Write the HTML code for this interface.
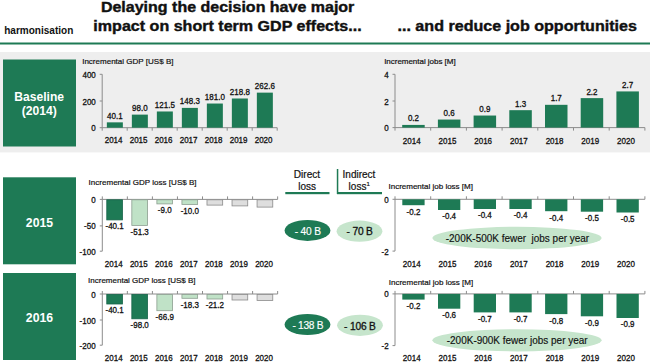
<!DOCTYPE html>
<html><head><meta charset="utf-8"><style>
html,body{margin:0;padding:0;background:#fff;width:650px;height:362px;overflow:hidden}
svg{display:block;font-family:"Liberation Sans", sans-serif}
</style></head><body>
<svg width="650" height="362" viewBox="0 0 650 362">
<rect x="0.00" y="52.00" width="650.00" height="100.40" fill="#eeeeee"/>
<rect x="0.00" y="42.50" width="650.00" height="2.00" fill="#1e7a55"/>
<text x="4.20" y="33.70" font-size="10" font-weight="bold" fill="#111" textLength="69.12" lengthAdjust="spacingAndGlyphs" >harmonisation</text>
<text x="100.93" y="12.00" font-size="14.8" font-weight="bold" fill="#111" textLength="253.41" lengthAdjust="spacingAndGlyphs" stroke="#111" stroke-width="0.4">Delaying the decision have major</text>
<text x="93.38" y="31.10" font-size="14.8" font-weight="bold" fill="#111" textLength="268.32" lengthAdjust="spacingAndGlyphs" stroke="#111" stroke-width="0.4">impact on short term GDP effects...</text>
<text x="397.51" y="31.00" font-size="14.8" font-weight="bold" fill="#111" textLength="239.45" lengthAdjust="spacingAndGlyphs" stroke="#111" stroke-width="0.4">... and reduce job opportunities</text>
<rect x="3.00" y="59.50" width="73.00" height="87.00" fill="#1e7a55"/>
<text x="14.29" y="101.00" font-size="12" font-weight="bold" fill="#fff" textLength="49.72" lengthAdjust="spacingAndGlyphs" >Baseline</text>
<text x="21.70" y="115.00" font-size="12" font-weight="bold" fill="#fff" textLength="35.11" lengthAdjust="spacingAndGlyphs" >(2014)</text>
<rect x="3.00" y="177.30" width="73.00" height="87.00" fill="#1e7a55"/>
<text x="25.88" y="226.70" font-size="12" font-weight="bold" fill="#fff" textLength="27.16" lengthAdjust="spacingAndGlyphs" >2015</text>
<rect x="3.00" y="273.00" width="73.00" height="87.00" fill="#1e7a55"/>
<text x="25.88" y="321.70" font-size="12" font-weight="bold" fill="#fff" textLength="27.27" lengthAdjust="spacingAndGlyphs" >2016</text>
<text x="82.16" y="63.50" font-size="8.0" font-weight="normal" fill="#111" textLength="91.31" lengthAdjust="spacing" stroke="#111" stroke-width="0.2">Incremental GDP [US$ B]</text>
<line x1="102.20" y1="74.30" x2="102.20" y2="130.70" stroke="#8c8c8c" stroke-width="1"/>
<line x1="99.70" y1="74.30" x2="102.20" y2="74.30" stroke="#8c8c8c" stroke-width="1"/>
<text transform="translate(95.80,77.80) scale(0.9302,1)" font-size="8.6" text-anchor="end" fill="#111" stroke="#111" stroke-width="0.3">400</text>
<line x1="99.70" y1="101.00" x2="102.20" y2="101.00" stroke="#8c8c8c" stroke-width="1"/>
<text transform="translate(95.80,104.50) scale(0.9302,1)" font-size="8.6" text-anchor="end" fill="#111" stroke="#111" stroke-width="0.3">200</text>
<line x1="99.70" y1="127.70" x2="102.20" y2="127.70" stroke="#8c8c8c" stroke-width="1"/>
<text transform="translate(95.80,131.20) scale(0.9302,1)" font-size="8.6" text-anchor="end" fill="#111" stroke="#111" stroke-width="0.3">0</text>
<line x1="102.20" y1="127.70" x2="277.20" y2="127.70" stroke="#8c8c8c" stroke-width="1"/>
<line x1="127.20" y1="127.70" x2="127.20" y2="130.70" stroke="#8c8c8c" stroke-width="1"/>
<line x1="152.20" y1="127.70" x2="152.20" y2="130.70" stroke="#8c8c8c" stroke-width="1"/>
<line x1="177.20" y1="127.70" x2="177.20" y2="130.70" stroke="#8c8c8c" stroke-width="1"/>
<line x1="202.20" y1="127.70" x2="202.20" y2="130.70" stroke="#8c8c8c" stroke-width="1"/>
<line x1="227.20" y1="127.70" x2="227.20" y2="130.70" stroke="#8c8c8c" stroke-width="1"/>
<line x1="252.20" y1="127.70" x2="252.20" y2="130.70" stroke="#8c8c8c" stroke-width="1"/>
<line x1="277.20" y1="127.70" x2="277.20" y2="130.70" stroke="#8c8c8c" stroke-width="1"/>
<text transform="translate(113.60,143.40) scale(0.9302,1)" font-size="8.6" text-anchor="middle" fill="#111" stroke="#111" stroke-width="0.3">2014</text>
<text transform="translate(138.60,143.40) scale(0.9302,1)" font-size="8.6" text-anchor="middle" fill="#111" stroke="#111" stroke-width="0.3">2015</text>
<text transform="translate(163.60,143.40) scale(0.9302,1)" font-size="8.6" text-anchor="middle" fill="#111" stroke="#111" stroke-width="0.3">2016</text>
<text transform="translate(188.60,143.40) scale(0.9302,1)" font-size="8.6" text-anchor="middle" fill="#111" stroke="#111" stroke-width="0.3">2017</text>
<text transform="translate(213.60,143.40) scale(0.9302,1)" font-size="8.6" text-anchor="middle" fill="#111" stroke="#111" stroke-width="0.3">2018</text>
<text transform="translate(238.60,143.40) scale(0.9302,1)" font-size="8.6" text-anchor="middle" fill="#111" stroke="#111" stroke-width="0.3">2019</text>
<text transform="translate(263.60,143.40) scale(0.9302,1)" font-size="8.6" text-anchor="middle" fill="#111" stroke="#111" stroke-width="0.3">2020</text>
<rect x="106.85" y="122.35" width="16.00" height="5.35" fill="#1e7a55"/>
<text transform="translate(114.85,118.75) scale(0.9302,1)" font-size="8.6" text-anchor="middle" fill="#111" stroke="#111" stroke-width="0.3">40.1</text>
<rect x="131.85" y="114.62" width="16.00" height="13.08" fill="#1e7a55"/>
<text transform="translate(139.85,111.02) scale(0.9302,1)" font-size="8.6" text-anchor="middle" fill="#111" stroke="#111" stroke-width="0.3">98.0</text>
<rect x="156.85" y="111.48" width="16.00" height="16.22" fill="#1e7a55"/>
<text transform="translate(164.85,107.88) scale(0.9302,1)" font-size="8.6" text-anchor="middle" fill="#111" stroke="#111" stroke-width="0.3">121.5</text>
<rect x="181.85" y="107.90" width="16.00" height="19.80" fill="#1e7a55"/>
<text transform="translate(189.85,104.30) scale(0.9302,1)" font-size="8.6" text-anchor="middle" fill="#111" stroke="#111" stroke-width="0.3">148.3</text>
<rect x="206.85" y="103.54" width="16.00" height="24.16" fill="#1e7a55"/>
<text transform="translate(214.85,99.94) scale(0.9302,1)" font-size="8.6" text-anchor="middle" fill="#111" stroke="#111" stroke-width="0.3">181.0</text>
<rect x="231.85" y="98.49" width="16.00" height="29.21" fill="#1e7a55"/>
<text transform="translate(239.85,94.89) scale(0.9302,1)" font-size="8.6" text-anchor="middle" fill="#111" stroke="#111" stroke-width="0.3">218.8</text>
<rect x="256.85" y="92.64" width="16.00" height="35.06" fill="#1e7a55"/>
<text transform="translate(264.85,89.04) scale(0.9302,1)" font-size="8.6" text-anchor="middle" fill="#111" stroke="#111" stroke-width="0.3">262.6</text>
<text x="384.17" y="63.80" font-size="8.0" font-weight="normal" fill="#111" textLength="71.50" lengthAdjust="spacing" stroke="#111" stroke-width="0.2">Incremental jobs [M]</text>
<line x1="395.00" y1="74.30" x2="395.00" y2="130.60" stroke="#8c8c8c" stroke-width="1"/>
<line x1="392.50" y1="74.30" x2="395.00" y2="74.30" stroke="#8c8c8c" stroke-width="1"/>
<text transform="translate(388.60,77.80) scale(0.9302,1)" font-size="8.6" text-anchor="end" fill="#111" stroke="#111" stroke-width="0.3">4</text>
<line x1="392.50" y1="101.00" x2="395.00" y2="101.00" stroke="#8c8c8c" stroke-width="1"/>
<text transform="translate(388.60,104.50) scale(0.9302,1)" font-size="8.6" text-anchor="end" fill="#111" stroke="#111" stroke-width="0.3">2</text>
<line x1="392.50" y1="127.60" x2="395.00" y2="127.60" stroke="#8c8c8c" stroke-width="1"/>
<text transform="translate(388.60,131.10) scale(0.9302,1)" font-size="8.6" text-anchor="end" fill="#111" stroke="#111" stroke-width="0.3">0</text>
<line x1="395.00" y1="127.60" x2="644.90" y2="127.60" stroke="#8c8c8c" stroke-width="1"/>
<line x1="430.70" y1="127.60" x2="430.70" y2="130.60" stroke="#8c8c8c" stroke-width="1"/>
<line x1="466.40" y1="127.60" x2="466.40" y2="130.60" stroke="#8c8c8c" stroke-width="1"/>
<line x1="502.10" y1="127.60" x2="502.10" y2="130.60" stroke="#8c8c8c" stroke-width="1"/>
<line x1="537.80" y1="127.60" x2="537.80" y2="130.60" stroke="#8c8c8c" stroke-width="1"/>
<line x1="573.50" y1="127.60" x2="573.50" y2="130.60" stroke="#8c8c8c" stroke-width="1"/>
<line x1="609.20" y1="127.60" x2="609.20" y2="130.60" stroke="#8c8c8c" stroke-width="1"/>
<line x1="644.90" y1="127.60" x2="644.90" y2="130.60" stroke="#8c8c8c" stroke-width="1"/>
<text transform="translate(411.75,143.50) scale(0.9302,1)" font-size="8.6" text-anchor="middle" fill="#111" stroke="#111" stroke-width="0.3">2014</text>
<text transform="translate(447.45,143.50) scale(0.9302,1)" font-size="8.6" text-anchor="middle" fill="#111" stroke="#111" stroke-width="0.3">2015</text>
<text transform="translate(483.15,143.50) scale(0.9302,1)" font-size="8.6" text-anchor="middle" fill="#111" stroke="#111" stroke-width="0.3">2016</text>
<text transform="translate(518.85,143.50) scale(0.9302,1)" font-size="8.6" text-anchor="middle" fill="#111" stroke="#111" stroke-width="0.3">2017</text>
<text transform="translate(554.55,143.50) scale(0.9302,1)" font-size="8.6" text-anchor="middle" fill="#111" stroke="#111" stroke-width="0.3">2018</text>
<text transform="translate(590.25,143.50) scale(0.9302,1)" font-size="8.6" text-anchor="middle" fill="#111" stroke="#111" stroke-width="0.3">2019</text>
<text transform="translate(625.95,143.50) scale(0.9302,1)" font-size="8.6" text-anchor="middle" fill="#111" stroke="#111" stroke-width="0.3">2020</text>
<rect x="402.20" y="124.92" width="22.50" height="2.68" fill="#1e7a55"/>
<text transform="translate(413.45,121.32) scale(0.9302,1)" font-size="8.6" text-anchor="middle" fill="#111" stroke="#111" stroke-width="0.3">0.2</text>
<rect x="437.90" y="119.56" width="22.50" height="8.04" fill="#1e7a55"/>
<text transform="translate(449.15,115.96) scale(0.9302,1)" font-size="8.6" text-anchor="middle" fill="#111" stroke="#111" stroke-width="0.3">0.6</text>
<rect x="473.60" y="115.54" width="22.50" height="12.06" fill="#1e7a55"/>
<text transform="translate(484.85,111.94) scale(0.9302,1)" font-size="8.6" text-anchor="middle" fill="#111" stroke="#111" stroke-width="0.3">0.9</text>
<rect x="509.30" y="110.18" width="22.50" height="17.42" fill="#1e7a55"/>
<text transform="translate(520.55,106.58) scale(0.9302,1)" font-size="8.6" text-anchor="middle" fill="#111" stroke="#111" stroke-width="0.3">1.3</text>
<rect x="545.00" y="104.82" width="22.50" height="22.78" fill="#1e7a55"/>
<text transform="translate(556.25,101.22) scale(0.9302,1)" font-size="8.6" text-anchor="middle" fill="#111" stroke="#111" stroke-width="0.3">1.7</text>
<rect x="580.70" y="98.12" width="22.50" height="29.48" fill="#1e7a55"/>
<text transform="translate(591.95,94.52) scale(0.9302,1)" font-size="8.6" text-anchor="middle" fill="#111" stroke="#111" stroke-width="0.3">2.2</text>
<rect x="616.40" y="91.42" width="22.50" height="36.18" fill="#1e7a55"/>
<text transform="translate(627.65,87.82) scale(0.9302,1)" font-size="8.6" text-anchor="middle" fill="#111" stroke="#111" stroke-width="0.3">2.7</text>
<text x="88.56" y="184.60" font-size="8.0" font-weight="normal" fill="#111" textLength="108.01" lengthAdjust="spacing" stroke="#111" stroke-width="0.2">Incremental GDP loss [US$ B]</text>
<line x1="102.30" y1="196.40" x2="102.30" y2="251.20" stroke="#8c8c8c" stroke-width="1"/>
<line x1="99.80" y1="199.40" x2="102.30" y2="199.40" stroke="#8c8c8c" stroke-width="1"/>
<text transform="translate(95.60,202.90) scale(0.9302,1)" font-size="8.6" text-anchor="end" fill="#111" stroke="#111" stroke-width="0.3">0</text>
<line x1="99.80" y1="225.90" x2="102.30" y2="225.90" stroke="#8c8c8c" stroke-width="1"/>
<text transform="translate(95.60,229.40) scale(0.9302,1)" font-size="8.6" text-anchor="end" fill="#111" stroke="#111" stroke-width="0.3">-50</text>
<line x1="99.80" y1="251.20" x2="102.30" y2="251.20" stroke="#8c8c8c" stroke-width="1"/>
<text transform="translate(95.60,254.70) scale(0.9302,1)" font-size="8.6" text-anchor="end" fill="#111" stroke="#111" stroke-width="0.3">-100</text>
<line x1="102.30" y1="199.40" x2="277.65" y2="199.40" stroke="#8c8c8c" stroke-width="1"/>
<line x1="127.35" y1="196.40" x2="127.35" y2="199.40" stroke="#8c8c8c" stroke-width="1"/>
<line x1="152.40" y1="196.40" x2="152.40" y2="199.40" stroke="#8c8c8c" stroke-width="1"/>
<line x1="177.45" y1="196.40" x2="177.45" y2="199.40" stroke="#8c8c8c" stroke-width="1"/>
<line x1="202.50" y1="196.40" x2="202.50" y2="199.40" stroke="#8c8c8c" stroke-width="1"/>
<line x1="227.55" y1="196.40" x2="227.55" y2="199.40" stroke="#8c8c8c" stroke-width="1"/>
<line x1="252.60" y1="196.40" x2="252.60" y2="199.40" stroke="#8c8c8c" stroke-width="1"/>
<line x1="277.65" y1="196.40" x2="277.65" y2="199.40" stroke="#8c8c8c" stroke-width="1"/>
<text transform="translate(113.73,266.50) scale(0.9302,1)" font-size="8.6" text-anchor="middle" fill="#111" stroke="#111" stroke-width="0.3">2014</text>
<text transform="translate(138.78,266.50) scale(0.9302,1)" font-size="8.6" text-anchor="middle" fill="#111" stroke="#111" stroke-width="0.3">2015</text>
<text transform="translate(163.83,266.50) scale(0.9302,1)" font-size="8.6" text-anchor="middle" fill="#111" stroke="#111" stroke-width="0.3">2016</text>
<text transform="translate(188.88,266.50) scale(0.9302,1)" font-size="8.6" text-anchor="middle" fill="#111" stroke="#111" stroke-width="0.3">2017</text>
<text transform="translate(213.93,266.50) scale(0.9302,1)" font-size="8.6" text-anchor="middle" fill="#111" stroke="#111" stroke-width="0.3">2018</text>
<text transform="translate(238.97,266.50) scale(0.9302,1)" font-size="8.6" text-anchor="middle" fill="#111" stroke="#111" stroke-width="0.3">2019</text>
<text transform="translate(264.02,266.50) scale(0.9302,1)" font-size="8.6" text-anchor="middle" fill="#111" stroke="#111" stroke-width="0.3">2020</text>
<rect x="106.78" y="199.80" width="15.70" height="20.10" fill="#1e7a55" stroke="#17644a" stroke-width="0.8"/>
<text transform="translate(114.62,229.40) scale(0.9302,1)" font-size="8.6" text-anchor="middle" fill="#111" stroke="#111" stroke-width="0.3">-40.1</text>
<rect x="131.83" y="199.80" width="15.70" height="25.60" fill="#c0e2c7" stroke="#8c9e90" stroke-width="0.8"/>
<text transform="translate(139.68,235.20) scale(0.9302,1)" font-size="8.6" text-anchor="middle" fill="#111" stroke="#111" stroke-width="0.3">-51.3</text>
<rect x="156.88" y="199.80" width="15.70" height="4.10" fill="#c0e2c7" stroke="#8c9e90" stroke-width="0.8"/>
<text transform="translate(164.73,213.10) scale(0.9302,1)" font-size="8.6" text-anchor="middle" fill="#111" stroke="#111" stroke-width="0.3">-9.0</text>
<rect x="181.93" y="199.80" width="15.70" height="4.60" fill="#c0e2c7" stroke="#8c9e90" stroke-width="0.8"/>
<text transform="translate(189.78,213.60) scale(0.9302,1)" font-size="8.6" text-anchor="middle" fill="#111" stroke="#111" stroke-width="0.3">-10.0</text>
<rect x="206.98" y="199.80" width="15.70" height="5.30" fill="#dedede" stroke="#8a8a8a" stroke-width="0.8"/>
<rect x="232.03" y="199.80" width="15.70" height="6.10" fill="#dedede" stroke="#8a8a8a" stroke-width="0.8"/>
<rect x="257.07" y="199.80" width="15.70" height="7.30" fill="#dedede" stroke="#8a8a8a" stroke-width="0.8"/>
<text x="388.46" y="188.90" font-size="8.0" font-weight="normal" fill="#111" textLength="84.51" lengthAdjust="spacing" stroke="#111" stroke-width="0.2">Incremental job loss [M]</text>
<line x1="395.00" y1="196.30" x2="395.00" y2="251.10" stroke="#8c8c8c" stroke-width="1"/>
<line x1="392.50" y1="199.30" x2="395.00" y2="199.30" stroke="#8c8c8c" stroke-width="1"/>
<text transform="translate(388.60,202.80) scale(0.9302,1)" font-size="8.6" text-anchor="end" fill="#111" stroke="#111" stroke-width="0.3">0</text>
<line x1="392.50" y1="251.10" x2="395.00" y2="251.10" stroke="#8c8c8c" stroke-width="1"/>
<text transform="translate(388.60,254.60) scale(0.9302,1)" font-size="8.6" text-anchor="end" fill="#111" stroke="#111" stroke-width="0.3">-2</text>
<line x1="395.00" y1="199.30" x2="644.90" y2="199.30" stroke="#8c8c8c" stroke-width="1"/>
<line x1="430.70" y1="196.30" x2="430.70" y2="199.30" stroke="#8c8c8c" stroke-width="1"/>
<line x1="466.40" y1="196.30" x2="466.40" y2="199.30" stroke="#8c8c8c" stroke-width="1"/>
<line x1="502.10" y1="196.30" x2="502.10" y2="199.30" stroke="#8c8c8c" stroke-width="1"/>
<line x1="537.80" y1="196.30" x2="537.80" y2="199.30" stroke="#8c8c8c" stroke-width="1"/>
<line x1="573.50" y1="196.30" x2="573.50" y2="199.30" stroke="#8c8c8c" stroke-width="1"/>
<line x1="609.20" y1="196.30" x2="609.20" y2="199.30" stroke="#8c8c8c" stroke-width="1"/>
<line x1="644.90" y1="196.30" x2="644.90" y2="199.30" stroke="#8c8c8c" stroke-width="1"/>
<text transform="translate(411.75,266.80) scale(0.9302,1)" font-size="8.6" text-anchor="middle" fill="#111" stroke="#111" stroke-width="0.3">2014</text>
<text transform="translate(447.45,266.80) scale(0.9302,1)" font-size="8.6" text-anchor="middle" fill="#111" stroke="#111" stroke-width="0.3">2015</text>
<text transform="translate(483.15,266.80) scale(0.9302,1)" font-size="8.6" text-anchor="middle" fill="#111" stroke="#111" stroke-width="0.3">2016</text>
<text transform="translate(518.85,266.80) scale(0.9302,1)" font-size="8.6" text-anchor="middle" fill="#111" stroke="#111" stroke-width="0.3">2017</text>
<text transform="translate(554.55,266.80) scale(0.9302,1)" font-size="8.6" text-anchor="middle" fill="#111" stroke="#111" stroke-width="0.3">2018</text>
<text transform="translate(590.25,266.80) scale(0.9302,1)" font-size="8.6" text-anchor="middle" fill="#111" stroke="#111" stroke-width="0.3">2019</text>
<text transform="translate(625.95,266.80) scale(0.9302,1)" font-size="8.6" text-anchor="middle" fill="#111" stroke="#111" stroke-width="0.3">2020</text>
<rect x="402.30" y="199.30" width="22.30" height="5.90" fill="#1e7a55"/>
<text transform="translate(413.45,214.50) scale(0.9302,1)" font-size="8.6" text-anchor="middle" fill="#111" stroke="#111" stroke-width="0.3">-0.2</text>
<rect x="438.00" y="199.30" width="22.30" height="10.70" fill="#1e7a55"/>
<text transform="translate(449.15,219.10) scale(0.9302,1)" font-size="8.6" text-anchor="middle" fill="#111" stroke="#111" stroke-width="0.3">-0.4</text>
<rect x="473.70" y="199.30" width="22.30" height="9.70" fill="#1e7a55"/>
<text transform="translate(484.85,218.00) scale(0.9302,1)" font-size="8.6" text-anchor="middle" fill="#111" stroke="#111" stroke-width="0.3">-0.4</text>
<rect x="509.40" y="199.30" width="22.30" height="9.70" fill="#1e7a55"/>
<text transform="translate(520.55,218.00) scale(0.9302,1)" font-size="8.6" text-anchor="middle" fill="#111" stroke="#111" stroke-width="0.3">-0.4</text>
<rect x="545.10" y="199.30" width="22.30" height="11.90" fill="#1e7a55"/>
<text transform="translate(556.25,220.50) scale(0.9302,1)" font-size="8.6" text-anchor="middle" fill="#111" stroke="#111" stroke-width="0.3">-0.4</text>
<rect x="580.80" y="199.30" width="22.30" height="12.40" fill="#1e7a55"/>
<text transform="translate(591.95,221.30) scale(0.9302,1)" font-size="8.6" text-anchor="middle" fill="#111" stroke="#111" stroke-width="0.3">-0.5</text>
<rect x="616.50" y="199.30" width="22.30" height="13.20" fill="#1e7a55"/>
<text transform="translate(627.65,221.80) scale(0.9302,1)" font-size="8.6" text-anchor="middle" fill="#111" stroke="#111" stroke-width="0.3">-0.5</text>
<text x="88.06" y="283.40" font-size="8.0" font-weight="normal" fill="#111" textLength="107.51" lengthAdjust="spacing" stroke="#111" stroke-width="0.2">Incremental GDP loss [US$ B]</text>
<line x1="102.30" y1="291.00" x2="102.30" y2="345.20" stroke="#8c8c8c" stroke-width="1"/>
<line x1="99.80" y1="294.00" x2="102.30" y2="294.00" stroke="#8c8c8c" stroke-width="1"/>
<text transform="translate(95.60,297.50) scale(0.9302,1)" font-size="8.6" text-anchor="end" fill="#111" stroke="#111" stroke-width="0.3">0</text>
<line x1="99.80" y1="320.00" x2="102.30" y2="320.00" stroke="#8c8c8c" stroke-width="1"/>
<text transform="translate(95.60,323.50) scale(0.9302,1)" font-size="8.6" text-anchor="end" fill="#111" stroke="#111" stroke-width="0.3">-100</text>
<line x1="99.80" y1="345.20" x2="102.30" y2="345.20" stroke="#8c8c8c" stroke-width="1"/>
<text transform="translate(95.60,348.70) scale(0.9302,1)" font-size="8.6" text-anchor="end" fill="#111" stroke="#111" stroke-width="0.3">-200</text>
<line x1="102.30" y1="294.00" x2="277.65" y2="294.00" stroke="#8c8c8c" stroke-width="1"/>
<line x1="127.35" y1="291.00" x2="127.35" y2="294.00" stroke="#8c8c8c" stroke-width="1"/>
<line x1="152.40" y1="291.00" x2="152.40" y2="294.00" stroke="#8c8c8c" stroke-width="1"/>
<line x1="177.45" y1="291.00" x2="177.45" y2="294.00" stroke="#8c8c8c" stroke-width="1"/>
<line x1="202.50" y1="291.00" x2="202.50" y2="294.00" stroke="#8c8c8c" stroke-width="1"/>
<line x1="227.55" y1="291.00" x2="227.55" y2="294.00" stroke="#8c8c8c" stroke-width="1"/>
<line x1="252.60" y1="291.00" x2="252.60" y2="294.00" stroke="#8c8c8c" stroke-width="1"/>
<line x1="277.65" y1="291.00" x2="277.65" y2="294.00" stroke="#8c8c8c" stroke-width="1"/>
<text transform="translate(113.73,360.50) scale(0.9302,1)" font-size="8.6" text-anchor="middle" fill="#111" stroke="#111" stroke-width="0.3">2014</text>
<text transform="translate(138.78,360.50) scale(0.9302,1)" font-size="8.6" text-anchor="middle" fill="#111" stroke="#111" stroke-width="0.3">2015</text>
<text transform="translate(163.83,360.50) scale(0.9302,1)" font-size="8.6" text-anchor="middle" fill="#111" stroke="#111" stroke-width="0.3">2016</text>
<text transform="translate(188.88,360.50) scale(0.9302,1)" font-size="8.6" text-anchor="middle" fill="#111" stroke="#111" stroke-width="0.3">2017</text>
<text transform="translate(213.93,360.50) scale(0.9302,1)" font-size="8.6" text-anchor="middle" fill="#111" stroke="#111" stroke-width="0.3">2018</text>
<text transform="translate(238.97,360.50) scale(0.9302,1)" font-size="8.6" text-anchor="middle" fill="#111" stroke="#111" stroke-width="0.3">2019</text>
<text transform="translate(264.02,360.50) scale(0.9302,1)" font-size="8.6" text-anchor="middle" fill="#111" stroke="#111" stroke-width="0.3">2020</text>
<rect x="106.78" y="294.40" width="15.70" height="9.60" fill="#1e7a55" stroke="#17644a" stroke-width="0.8"/>
<text transform="translate(114.62,313.30) scale(0.9302,1)" font-size="8.6" text-anchor="middle" fill="#111" stroke="#111" stroke-width="0.3">-40.1</text>
<rect x="131.83" y="294.40" width="15.70" height="24.40" fill="#1e7a55" stroke="#17644a" stroke-width="0.8"/>
<text transform="translate(139.68,327.90) scale(0.9302,1)" font-size="8.6" text-anchor="middle" fill="#111" stroke="#111" stroke-width="0.3">-98.0</text>
<rect x="156.88" y="294.40" width="15.70" height="16.30" fill="#c0e2c7" stroke="#8c9e90" stroke-width="0.8"/>
<text transform="translate(164.73,320.00) scale(0.9302,1)" font-size="8.6" text-anchor="middle" fill="#111" stroke="#111" stroke-width="0.3">-66.9</text>
<rect x="181.93" y="294.40" width="15.70" height="3.90" fill="#c0e2c7" stroke="#8c9e90" stroke-width="0.8"/>
<text transform="translate(189.78,307.80) scale(0.9302,1)" font-size="8.6" text-anchor="middle" fill="#111" stroke="#111" stroke-width="0.3">-18.3</text>
<rect x="206.98" y="294.40" width="15.70" height="4.60" fill="#c0e2c7" stroke="#8c9e90" stroke-width="0.8"/>
<text transform="translate(214.83,308.40) scale(0.9302,1)" font-size="8.6" text-anchor="middle" fill="#111" stroke="#111" stroke-width="0.3">-21.2</text>
<rect x="232.03" y="294.40" width="15.70" height="5.60" fill="#dedede" stroke="#8a8a8a" stroke-width="0.8"/>
<rect x="257.07" y="294.40" width="15.70" height="6.00" fill="#dedede" stroke="#8a8a8a" stroke-width="0.8"/>
<text x="388.76" y="285.10" font-size="8.0" font-weight="normal" fill="#111" textLength="84.41" lengthAdjust="spacing" stroke="#111" stroke-width="0.2">Incremental job loss [M]</text>
<line x1="395.00" y1="290.90" x2="395.00" y2="345.60" stroke="#8c8c8c" stroke-width="1"/>
<line x1="392.50" y1="293.90" x2="395.00" y2="293.90" stroke="#8c8c8c" stroke-width="1"/>
<text transform="translate(388.60,297.40) scale(0.9302,1)" font-size="8.6" text-anchor="end" fill="#111" stroke="#111" stroke-width="0.3">0</text>
<line x1="392.50" y1="345.60" x2="395.00" y2="345.60" stroke="#8c8c8c" stroke-width="1"/>
<text transform="translate(388.60,349.10) scale(0.9302,1)" font-size="8.6" text-anchor="end" fill="#111" stroke="#111" stroke-width="0.3">-2</text>
<line x1="395.00" y1="293.90" x2="644.90" y2="293.90" stroke="#8c8c8c" stroke-width="1"/>
<line x1="430.70" y1="290.90" x2="430.70" y2="293.90" stroke="#8c8c8c" stroke-width="1"/>
<line x1="466.40" y1="290.90" x2="466.40" y2="293.90" stroke="#8c8c8c" stroke-width="1"/>
<line x1="502.10" y1="290.90" x2="502.10" y2="293.90" stroke="#8c8c8c" stroke-width="1"/>
<line x1="537.80" y1="290.90" x2="537.80" y2="293.90" stroke="#8c8c8c" stroke-width="1"/>
<line x1="573.50" y1="290.90" x2="573.50" y2="293.90" stroke="#8c8c8c" stroke-width="1"/>
<line x1="609.20" y1="290.90" x2="609.20" y2="293.90" stroke="#8c8c8c" stroke-width="1"/>
<line x1="644.90" y1="290.90" x2="644.90" y2="293.90" stroke="#8c8c8c" stroke-width="1"/>
<text transform="translate(411.75,360.60) scale(0.9302,1)" font-size="8.6" text-anchor="middle" fill="#111" stroke="#111" stroke-width="0.3">2014</text>
<text transform="translate(447.45,360.60) scale(0.9302,1)" font-size="8.6" text-anchor="middle" fill="#111" stroke="#111" stroke-width="0.3">2015</text>
<text transform="translate(483.15,360.60) scale(0.9302,1)" font-size="8.6" text-anchor="middle" fill="#111" stroke="#111" stroke-width="0.3">2016</text>
<text transform="translate(518.85,360.60) scale(0.9302,1)" font-size="8.6" text-anchor="middle" fill="#111" stroke="#111" stroke-width="0.3">2017</text>
<text transform="translate(554.55,360.60) scale(0.9302,1)" font-size="8.6" text-anchor="middle" fill="#111" stroke="#111" stroke-width="0.3">2018</text>
<text transform="translate(590.25,360.60) scale(0.9302,1)" font-size="8.6" text-anchor="middle" fill="#111" stroke="#111" stroke-width="0.3">2019</text>
<text transform="translate(625.95,360.60) scale(0.9302,1)" font-size="8.6" text-anchor="middle" fill="#111" stroke="#111" stroke-width="0.3">2020</text>
<rect x="402.30" y="293.90" width="22.30" height="5.70" fill="#1e7a55"/>
<text transform="translate(413.45,309.20) scale(0.9302,1)" font-size="8.6" text-anchor="middle" fill="#111" stroke="#111" stroke-width="0.3">-0.2</text>
<rect x="438.00" y="293.90" width="22.30" height="14.80" fill="#1e7a55"/>
<text transform="translate(449.15,318.00) scale(0.9302,1)" font-size="8.6" text-anchor="middle" fill="#111" stroke="#111" stroke-width="0.3">-0.6</text>
<rect x="473.70" y="293.90" width="22.30" height="18.50" fill="#1e7a55"/>
<text transform="translate(484.85,321.90) scale(0.9302,1)" font-size="8.6" text-anchor="middle" fill="#111" stroke="#111" stroke-width="0.3">-0.7</text>
<rect x="509.40" y="293.90" width="22.30" height="18.50" fill="#1e7a55"/>
<text transform="translate(520.55,321.90) scale(0.9302,1)" font-size="8.6" text-anchor="middle" fill="#111" stroke="#111" stroke-width="0.3">-0.7</text>
<rect x="545.10" y="293.90" width="22.30" height="20.20" fill="#1e7a55"/>
<text transform="translate(556.25,323.60) scale(0.9302,1)" font-size="8.6" text-anchor="middle" fill="#111" stroke="#111" stroke-width="0.3">-0.8</text>
<rect x="580.80" y="293.90" width="22.30" height="22.40" fill="#1e7a55"/>
<text transform="translate(591.95,325.60) scale(0.9302,1)" font-size="8.6" text-anchor="middle" fill="#111" stroke="#111" stroke-width="0.3">-0.9</text>
<rect x="616.50" y="293.90" width="22.30" height="24.10" fill="#1e7a55"/>
<text transform="translate(627.65,327.30) scale(0.9302,1)" font-size="8.6" text-anchor="middle" fill="#111" stroke="#111" stroke-width="0.3">-0.9</text>
<text x="293.77" y="178.40" font-size="10" font-weight="normal" fill="#111" textLength="26.40" lengthAdjust="spacingAndGlyphs" stroke="#111" stroke-width="0.2">Direct</text>
<text x="298.33" y="190.20" font-size="10" font-weight="normal" fill="#111" textLength="17.73" lengthAdjust="spacingAndGlyphs" stroke="#111" stroke-width="0.2">loss</text>
<text x="342.58" y="178.40" font-size="10" font-weight="normal" fill="#111" textLength="32.80" lengthAdjust="spacingAndGlyphs" stroke="#111" stroke-width="0.2">Indirect</text>
<text x="348.60" y="190.20" font-size="10" text-anchor="start" font-weight="normal" fill="#111" stroke="#111" stroke-width="0.2">loss<tspan font-size="6" dy="-4.2">1</tspan></text>
<rect x="285.30" y="192.00" width="44.20" height="2.20" fill="#1e7a55"/>
<rect x="337.00" y="192.00" width="45.00" height="2.20" fill="#1e7a55"/>
<rect x="336.80" y="169.00" width="1.50" height="25.00" fill="#1e7a55"/>
<ellipse cx="307.5" cy="230.4" rx="22.9" ry="10.5" fill="#1e7a55"/>
<text x="294.76" y="234.80" font-size="10.2" font-weight="normal" fill="#fff" textLength="26.26" lengthAdjust="spacing" stroke="#fff" stroke-width="0.15">- 40 B</text>
<ellipse cx="359.5" cy="231.2" rx="22.9" ry="10.6" fill="#c6e5cc"/>
<text x="346.56" y="235.10" font-size="10.2" font-weight="normal" fill="#111" textLength="26.26" lengthAdjust="spacing" stroke="#111" stroke-width="0.3">- 70 B</text>
<ellipse cx="307.5" cy="324.5" rx="22.9" ry="10.6" fill="#1e7a55"/>
<text x="292.47" y="328.90" font-size="10.2" font-weight="normal" fill="#fff" textLength="31.04" lengthAdjust="spacing" stroke="#fff" stroke-width="0.15">- 138 B</text>
<ellipse cx="360" cy="325.3" rx="22.9" ry="10.6" fill="#c6e5cc"/>
<text x="344.06" y="329.70" font-size="10.2" font-weight="normal" fill="#111" textLength="31.86" lengthAdjust="spacing" stroke="#111" stroke-width="0.3">- 106 B</text>
<ellipse cx="517" cy="238" rx="84.6" ry="11.2" fill="#c6e5cc"/>
<text x="445.76" y="241.90" font-size="10" font-weight="normal" fill="#111" textLength="143.41" lengthAdjust="spacingAndGlyphs" stroke="#111" stroke-width="0.15">-200K-500K fewer&#160; jobs per year</text>
<ellipse cx="517" cy="340.3" rx="84.6" ry="11.1" fill="#c6e5cc"/>
<text x="446.76" y="344.00" font-size="10" font-weight="normal" fill="#111" textLength="140.91" lengthAdjust="spacingAndGlyphs" stroke="#111" stroke-width="0.15">-200K-900K fewer jobs per year</text>
</svg>
</body></html>
